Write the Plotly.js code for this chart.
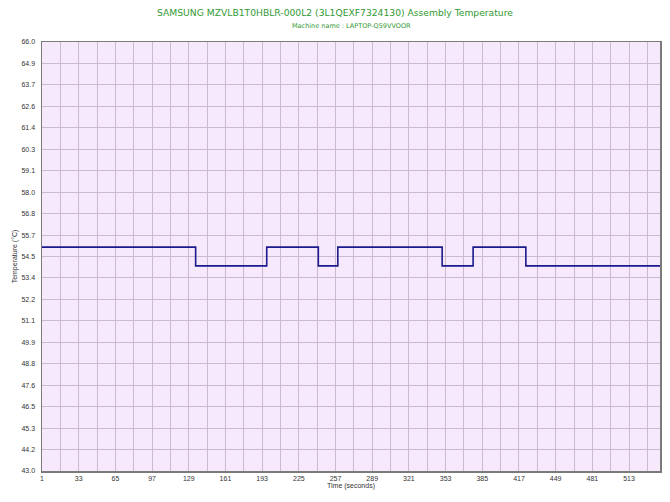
<!DOCTYPE html>
<html>
<head>
<meta charset="utf-8">
<script src="https://cdn.plot.ly/plotly-3.0.1.min.js"></script>
<style>html,body{margin:0;padding:0;background:#fff;}#chart{width:670px;height:502px;}</style>
</head>
<body>
<div id="chart"></div>
<script>
var timeSeconds = [1, 135, 197, 242, 259, 350, 377, 423, 540];
var temperatureC = [55, 54, 55, 54, 55, 54, 55, 54, 54];
var xTickVals = [1, 33, 65, 97, 129, 161, 193, 225, 257, 289, 321, 353, 385, 417, 449, 481, 513];
var yTickVals = [43.0, 44.15, 45.3, 46.45, 47.6, 48.75, 49.9, 51.05, 52.2, 53.35, 54.5, 55.65, 56.8, 57.95, 59.1, 60.25, 61.4, 62.55, 63.7, 64.85, 66.0];
var yTickText = ["43.0","44.2","45.3","46.5","47.6","48.8","49.9","51.1","52.2","53.4","54.5","55.7","56.8","58.0","59.1","60.3","61.4","62.6","63.7","64.9","66.0"];
var titleText = "SAMSUNG MZVLB1T0HBLR-000L2 (3L1QEXF7324130) Assembly Temperature";
var subtitleText = "Machine name : LAPTOP-Q59VVOOR";

var trace = {
  x: timeSeconds, y: temperatureC, type: 'scatter', mode: 'lines',
  line: {shape: 'hv', color: '#1a1a8c', width: 1.6},
  hoverinfo: 'skip'
};
var layout = {
  width: 670, height: 502,
  margin: {l: 42, r: 10, t: 42, b: 31},
  paper_bgcolor: '#ffffff', plot_bgcolor: '#f6e9fc',
  showlegend: false,
  title: {text: titleText, x: 0.5, xanchor: 'center', y: 0.98, yanchor: 'top',
          font: {family: 'DejaVu Sans, Verdana, sans-serif', size: 9.2, color: '#339933'}},
  annotations: [{text: subtitleText, xref: 'paper', yref: 'paper', x: 0.5, y: 1, yshift: 16,
    xanchor: 'center', yanchor: 'middle', showarrow: false,
    font: {family: 'DejaVu Sans, Verdana, sans-serif', size: 6.5, color: '#339933'}}],
  xaxis: {
    range: [1, 540], tickmode: 'array', tickvals: xTickVals,
    showgrid: true, gridcolor: '#cdb9d4', gridwidth: 1,
    minor: {tickmode: 'linear', tick0: 1, dtick: 16, showgrid: true, gridcolor: '#cdb9d4', gridwidth: 1, ticks: ''},
    zeroline: false, showline: true, linecolor: '#7a7a7a', linewidth: 1.5, mirror: true,
    ticks: '', tickfont: {family: 'Liberation Sans, Arial, sans-serif', size: 7, color: '#333'},
    title: {text: 'Time (seconds)', standoff: 2, font: {family: 'Liberation Sans, Arial, sans-serif', size: 7, color: '#333'}}
  },
  yaxis: {
    range: [43, 66], tickmode: 'array', tickvals: yTickVals, ticktext: yTickText,
    showgrid: true, gridcolor: '#cdb9d4', gridwidth: 1,
    zeroline: false, showline: true, linecolor: '#7a7a7a', linewidth: 1.5, mirror: true,
    ticks: '', ticklabelstandoff: 4, tickfont: {family: 'Liberation Sans, Arial, sans-serif', size: 7, color: '#333'},
    title: {text: 'Temperature (°C)', standoff: 3, font: {family: 'Liberation Sans, Arial, sans-serif', size: 7, color: '#333'}}
  }
};
Plotly.newPlot('chart', [trace], layout, {displayModeBar: false, staticPlot: true});
</script>
</body>
</html>
